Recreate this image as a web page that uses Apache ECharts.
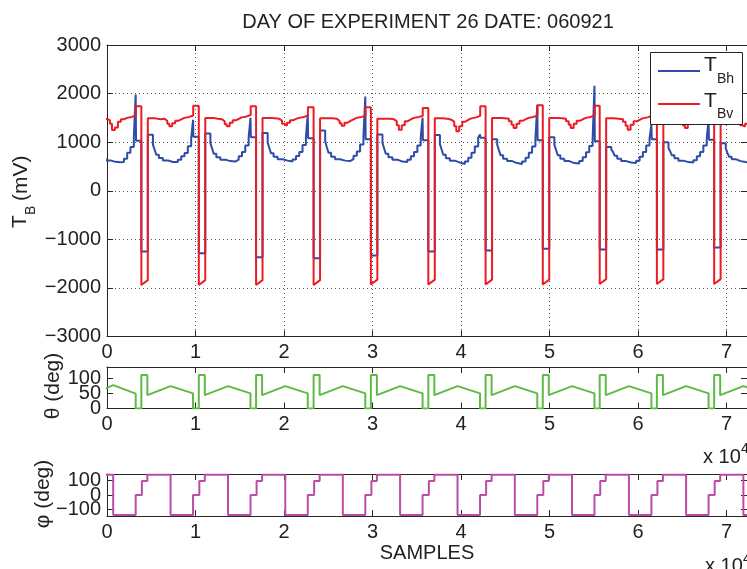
<!DOCTYPE html>
<html><head><meta charset="utf-8">
<script src="https://cdn.jsdelivr.net/npm/echarts@6/dist/echarts.min.js"></script>
<style>html,body{margin:0;padding:0;background:#fff}#c{width:747px;height:569px}</style>
</head><body><div id="c"></div>
<script>
// ---- data (samples on x; cycle 0 begins before the visible range) ----
const cycleStart = [-2600, 3880, 10370, 16840, 23340, 29810, 36300, 42770, 49230, 55660, 62120, 68590];

// T_Bh (blue): offsets after each cycle start where the level changes
const bhOffsets = [0, 730, 1310, 1500, 1690, 1980, 2430, 3000, 3560, 4120, 4510, 4880, 5250, 5630, 5840, 5880];
const bhLevels = [
  [-1260, 1150, 950, 845, 745, 675, 625, 595, 585, 590, 660, 780, 900, 1100, 1980, 1030],
  [-1250, 1155, 950, 845, 742, 673, 625, 591, 591, 639, 708, 777, 914, 1080, 1460, 1110],
  [-1285, 1180, 980, 870, 760, 690, 640, 610, 600, 640, 710, 800, 930, 1100, 1500, 1100],
  [-1370, 1190, 990, 880, 770, 700, 650, 620, 600, 645, 715, 800, 940, 1110, 1570, 1080],
  [-1390, 1240, 1020, 890, 780, 700, 650, 620, 610, 650, 720, 810, 950, 1120, 1940, 1060],
  [-1335, 1160, 980, 870, 760, 690, 640, 600, 590, 640, 710, 800, 930, 1100, 1500, 1040],
  [-1250, 1150, 960, 850, 740, 670, 620, 580, 550, 600, 680, 780, 910, 1090, 1160, 1090],
  [-1230, 1060, 950, 840, 730, 660, 610, 570, 550, 600, 680, 780, 910, 1080, 1770, 1040],
  [-1195, 1100, 950, 840, 730, 660, 610, 570, 560, 610, 690, 790, 920, 1070, 2160, 1020],
  [-1210, 900, 850, 800, 720, 660, 610, 580, 570, 620, 700, 800, 930, 1080, 1360, 1060],
  [-1210, 1000, 880, 810, 730, 670, 620, 590, 580, 630, 710, 800, 930, 1080, 1460, 1050],
  [-1170, 980, 870, 780, 700, 650, 610, 590, 580, 630, 700, 800, 920, 1080, 1400, 1050]
];

// T_Bv (red): pulse bottom ramp, then level changes
const bvOffsets = [0, 730, 730, 1580, 2140, 2630, 2930, 3160, 3490, 3830, 4170, 4510, 4850, 5410, 5860];
const bvKinds   = ['j','r','j','j','j','j','j','j','j','j','j','j','j','j','j'];
const bvLevels = [
  [-1940, -1840, 1480, 1470, 1480, 1450, 1380, 1250, 1300, 1420, 1470, 1500, 1520, 1550, 1738],
  [-1940, -1840, 1490, 1470, 1480, 1440, 1380, 1326, 1390, 1440, 1470, 1500, 1520, 1550, 1752],
  [-1940, -1840, 1500, 1480, 1470, 1430, 1370, 1326, 1400, 1450, 1480, 1510, 1530, 1560, 1738],
  [-1940, -1840, 1500, 1490, 1480, 1440, 1380, 1340, 1400, 1450, 1480, 1500, 1520, 1550, 1717],
  [-1940, -1840, 1490, 1490, 1480, 1440, 1390, 1340, 1400, 1440, 1470, 1500, 1520, 1540, 1717],
  [-1930, -1830, 1480, 1480, 1470, 1430, 1350, 1258, 1350, 1430, 1470, 1500, 1520, 1540, 1705],
  [-1930, -1830, 1490, 1480, 1460, 1420, 1330, 1223, 1330, 1420, 1460, 1490, 1510, 1540, 1738],
  [-1930, -1830, 1500, 1490, 1480, 1430, 1360, 1292, 1380, 1440, 1470, 1500, 1520, 1550, 1758],
  [-1930, -1830, 1500, 1490, 1480, 1430, 1360, 1292, 1380, 1440, 1470, 1500, 1520, 1550, 1752],
  [-1920, -1820, 1490, 1480, 1470, 1420, 1340, 1258, 1360, 1430, 1460, 1490, 1510, 1540, 1720],
  [-1920, -1820, 1490, 1480, 1470, 1420, 1350, 1292, 1380, 1440, 1470, 1500, 1520, 1540, 1720],
  [-1920, -1820, 1480, 1470, 1460, 1420, 1350, 1320, 1380, 1440, 1470, 1500, 1520, 1540, 1720]
];

// theta (green)
const thOffsets = [0, 680, 3300, 5840, 5840];
const thKinds   = ['j','j','r','r','j'];
const thLevels = [
  [111, 44, 77, 49, 0], [111, 44, 74, 50, 0], [111, 44, 74, 50, 0], [111, 44, 74, 50, 0],
  [111, 44, 74, 50, 0], [111, 44, 74, 50, 0], [111, 44, 74, 50, 0], [111, 44, 74, 50, 0],
  [111, 44, 74, 50, 0], [111, 44, 74, 50, 0], [111, 44, 74, 50, 0], [111, 44, 74, 50, 0]
];

// phi (purple)
const phOffsets = [60, 680, 3300, 5840];
const phLevels = [
  [97, 140, -138, 0], [97, 140, -138, 0], [97, 140, -138, 0], [97, 140, -138, 0],
  [97, 140, -138, 0], [97, 140, -138, 0], [97, 140, -138, 0], [97, 140, -138, 0],
  [97, 140, -138, 0], [97, 140, -138, 0], [97, 140, -138, 0], [97, 140, -138, 0]
];

const xTicks = [0, 1, 2, 3, 4, 5, 6, 7];
const thTicks = [0, 50, 100];
const phTicks = [-100, 0, 100];
const xMax = 72300;

// ---- build polylines from the tables ----
function build(offsets, kinds, rows) {
  const pts = []; let prev = null;
  cycleStart.forEach((P, c) => {
    offsets.forEach((o, i) => {
      const x = P + o, v = rows[c][i];
      const k = kinds ? kinds[i] : 'j';
      if (k === 'j' && prev !== null) pts.push([x, prev]);
      pts.push([x, v]); prev = v;
    });
  });
  pts.push([xMax + 5000, prev]);
  return pts;
}

const FF = 'Liberation Sans, Arial, Helvetica, sans-serif';
const AX = '#262626', TX = '#222';
const minus = v => String(v).replace('-', '\u2212');

function xAx(g, pos, show, split) {
  return { type: 'value', gridIndex: g, position: pos, min: 0, max: xMax, interval: 10000,
    axisLine: { show: true, onZero: false, lineStyle: { color: AX, width: 1 } },
    axisTick: { show: true, inside: true, length: 6, lineStyle: { color: AX } },
    axisLabel: { show: show, showMinLabel: true, showMaxLabel: false, margin: 6, fontSize: 20, color: TX, fontFamily: FF,
      formatter: v => xTicks.indexOf(v / 10000) >= 0 ? String(v / 10000) : '' },
    splitLine: { show: split, lineStyle: { color: '#555', width: 1, type: [1, 3] } } };
}
function yAx(g, pos, show, split, extra, ticks) {
  const a = { type: 'value', gridIndex: g, position: pos,
    axisLine: { show: true, onZero: false, lineStyle: { color: AX, width: 1 } },
    axisTick: { show: true, inside: true, length: 6, lineStyle: { color: AX } },
    axisLabel: { show: show, showMinLabel: true, showMaxLabel: true, margin: 6, fontSize: 20, color: TX, fontFamily: FF, formatter: minus },
    splitLine: { show: split, lineStyle: { color: '#555', width: 1, type: [1, 3] } } };
  if (ticks) { a.axisTick.customValues = ticks; a.axisLabel.customValues = ticks; }
  return Object.assign(a, extra);
}
// label-only axis (no line / ticks) so that close tick labels are all kept
function yLab(g, extra, values) {
  return Object.assign({ type: 'value', gridIndex: g, position: 'left',
    axisLine: { show: false }, axisTick: { show: false }, splitLine: { show: false },
    axisLabel: { show: true, customValues: values, showMinLabel: true, showMaxLabel: true, margin: 6, fontSize: 20,
      color: TX, fontFamily: FF, formatter: minus } }, extra);
}

const thRange = { min: 0, max: 137 };
const phRange = { min: -145, max: 145 };

const option = {
  animation: false,
  backgroundColor: '#fff',
  grid: [
    { left: 107, top: 45, width: 641, height: 291.5 },
    { left: 107, top: 367, width: 641, height: 41.5 },
    { left: 107, top: 474, width: 641, height: 42 }
  ],
  xAxis: [
    xAx(0, 'bottom', true, true), xAx(0, 'top', false, false),
    xAx(1, 'bottom', true, false), xAx(1, 'top', false, false),
    xAx(2, 'bottom', true, false), xAx(2, 'top', false, false)
  ],
  yAxis: [
    yAx(0, 'left', true, true, { min: -3000, max: 3000, interval: 1000 }),
    yAx(0, 'right', false, false, { min: -3000, max: 3000, interval: 1000 }),
    yAx(1, 'left', false, false, thRange, thTicks),
    yAx(1, 'right', false, false, thRange, thTicks),
    yAx(2, 'left', false, false, phRange, phTicks),
    yAx(2, 'right', false, false, phRange, phTicks),
    yLab(1, thRange, [thTicks[0], thTicks[2]]),
    yLab(1, thRange, [thTicks[1]]),
    yLab(2, phRange, [phTicks[0], phTicks[2]]),
    yLab(2, phRange, [phTicks[1]])
  ],
  series: [
    { name: 'TBh', type: 'line', xAxisIndex: 0, yAxisIndex: 0, data: build(bhOffsets, null, bhLevels),
      showSymbol: false, symbol: 'none', lineStyle: { color: '#2d4ca8', width: 2 }, z: 2 },
    { name: 'TBv', type: 'line', xAxisIndex: 0, yAxisIndex: 0, data: build(bvOffsets, bvKinds, bvLevels),
      showSymbol: false, symbol: 'none', lineStyle: { color: '#ec1c24', width: 2 }, z: 3 },
    { name: 'theta', type: 'line', xAxisIndex: 2, yAxisIndex: 2, data: build(thOffsets, thKinds, thLevels),
      showSymbol: false, symbol: 'none', lineStyle: { color: '#5dbb44', width: 2 } },
    { name: 'phi', type: 'line', xAxisIndex: 4, yAxisIndex: 4, data: build(phOffsets, null, phLevels),
      showSymbol: false, symbol: 'none', lineStyle: { color: '#bb4ca6', width: 2 } }
  ],
  graphic: [
    { type: 'text', x: 428, y: 22, style: { text: 'DAY OF EXPERIMENT 26 DATE: 060921', font: '20px ' + FF, fill: TX, align: 'center', verticalAlign: 'middle' } },
    // legend
    { type: 'rect', shape: { x: 650.5, y: 52.5, width: 92, height: 72 }, style: { fill: '#fff', stroke: '#222', lineWidth: 1 }, z: 100 },
    { type: 'line', shape: { x1: 658, y1: 71, x2: 700, y2: 71 }, style: { stroke: '#2d4ca8', lineWidth: 2 }, z: 101 },
    { type: 'line', shape: { x1: 658, y1: 104, x2: 700, y2: 104 }, style: { stroke: '#ec1c24', lineWidth: 2 }, z: 101 },
    { type: 'text', x: 704, y: 65, z: 101, style: { text: 'T', font: '21px ' + FF, fill: TX, align: 'left', verticalAlign: 'middle' } },
    { type: 'text', x: 717, y: 79, z: 101, style: { text: 'Bh', font: '14px ' + FF, fill: TX, align: 'left', verticalAlign: 'middle' } },
    { type: 'text', x: 704, y: 101, z: 101, style: { text: 'T', font: '21px ' + FF, fill: TX, align: 'left', verticalAlign: 'middle' } },
    { type: 'text', x: 717, y: 114, z: 101, style: { text: 'Bv', font: '14px ' + FF, fill: TX, align: 'left', verticalAlign: 'middle' } },
    // y axis names (rotated)
    { type: 'text', x: 20, y: 228, rotation: Math.PI / 2, style: { text: 'T', font: '21px ' + FF, fill: TX, align: 'left', verticalAlign: 'middle' } },
    { type: 'text', x: 31, y: 215, rotation: Math.PI / 2, style: { text: 'B', font: '14px ' + FF, fill: TX, align: 'left', verticalAlign: 'middle' } },
    { type: 'text', x: 21, y: 201, rotation: Math.PI / 2, style: { text: '(mV)', font: '21px ' + FF, fill: TX, align: 'left', verticalAlign: 'middle' } },
    { type: 'text', x: 53, y: 386, rotation: Math.PI / 2, style: { text: '\u03b8 (deg)', font: '21px ' + FF, fill: TX, align: 'center', verticalAlign: 'middle' } },
    { type: 'text', x: 43, y: 494, rotation: Math.PI / 2, style: { text: '\u03c6 (deg)', font: '21px ' + FF, fill: TX, align: 'center', verticalAlign: 'middle' } },
    // x labels
    { type: 'text', x: 427, y: 553, style: { text: 'SAMPLES', font: '20px ' + FF, fill: TX, align: 'center', verticalAlign: 'middle' } },
    { type: 'text', x: 703, y: 457, style: { text: 'x 10', font: '20px ' + FF, fill: TX, align: 'left', verticalAlign: 'middle' } },
    { type: 'text', x: 741, y: 449, style: { text: '4', font: '14px ' + FF, fill: TX, align: 'left', verticalAlign: 'middle' } },
    { type: 'text', x: 705, y: 566, style: { text: 'x 10', font: '20px ' + FF, fill: TX, align: 'left', verticalAlign: 'middle' } },
    { type: 'text', x: 743, y: 559, style: { text: '4', font: '14px ' + FF, fill: TX, align: 'left', verticalAlign: 'middle' } }
  ]
};

const chart = echarts.init(document.getElementById('c'), null, { renderer: 'canvas' });
chart.setOption(option);
</script></body></html>
